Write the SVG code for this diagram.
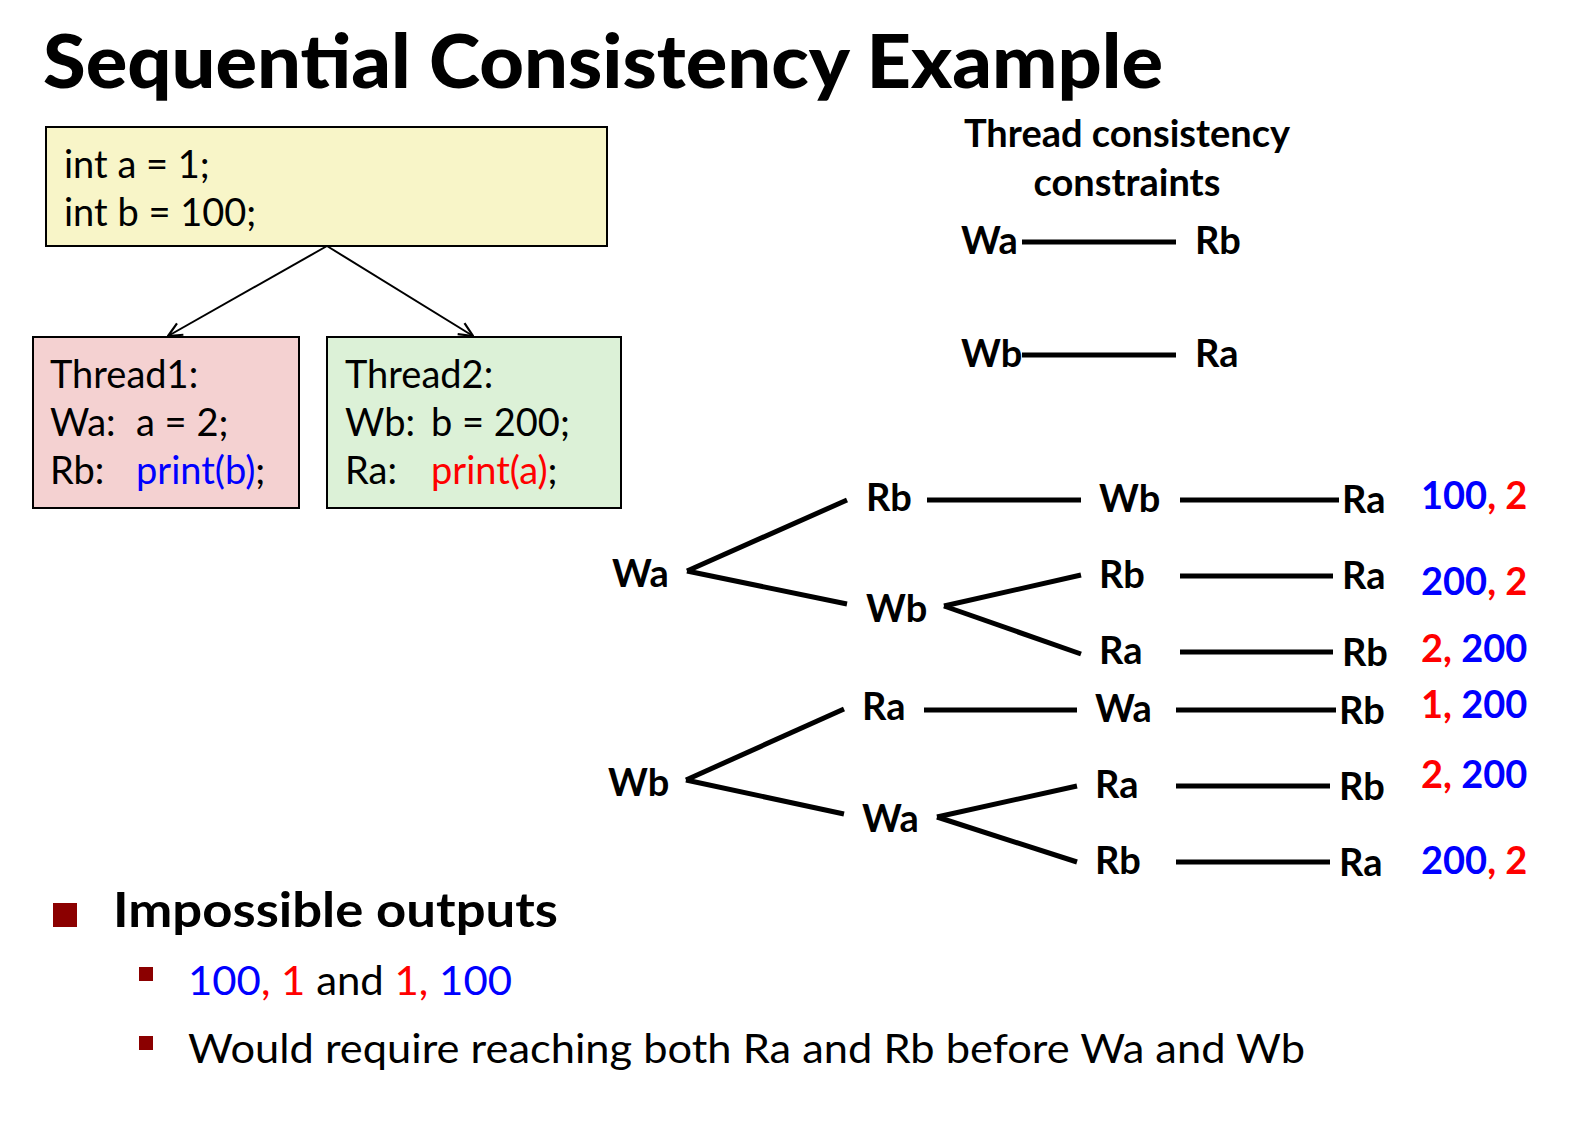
<svg xmlns="http://www.w3.org/2000/svg" width="1575" height="1121" viewBox="0 0 1575 1121">
  <defs>
    <marker id="open-arrow" viewBox="0 0 16 16" refX="15" refY="8" markerWidth="16" markerHeight="16" markerUnits="userSpaceOnUse" orient="auto">
      <path d="M1,1.5 L15,8 L1,14.5" fill="none" stroke="#000" stroke-width="2.2"/>
    </marker>
    <style>
      text { font-family: Lato, "Open Sans", "Liberation Sans", sans-serif; fill: #000; }
      .title { font-size: 75px; font-weight: 900; }
      .code { font-size: 38px; }
      .node { font-size: 38px; font-weight: 700; }
      .head { font-size: 38px; font-weight: 700; }
      .out { font-size: 38px; font-weight: 700; }
      .b1 { font-size: 47px; font-weight: 700; }
      .b2 { font-size: 41px; }
      .blue { fill: #0000ff; }
      .red { fill: #ff0000; }
      .edge { stroke: #000; stroke-width: 5; fill: none; }
      .arrow { stroke: #000; stroke-width: 2; fill: none; marker-end: url(#open-arrow); }
      .box { stroke: #000; stroke-width: 2; }
      .bullet { fill: #8b0000; }
    </style>
  </defs>

  <rect width="1575" height="1121" fill="#fff"/>

  <text class="title" x="43" y="88" textLength="1120" lengthAdjust="spacingAndGlyphs">Sequential Consistency Example</text>

  <!-- program boxes -->
  <g id="init">
    <rect class="box" x="46" y="127" width="561" height="119" fill="#f8f5c8"/>
    <text class="code" x="64" y="178">int a = 1;</text>
    <text class="code" x="64" y="226">int b = 100;</text>
  </g>
  <g id="thread1">
    <rect class="box" x="33" y="337" width="266" height="171" fill="#f4d1d1"/>
    <text class="code" x="50" y="388">Thread1:</text>
    <text class="code" x="50" y="436">Wa:</text>
    <text class="code" x="136" y="436">a = 2;</text>
    <text class="code" x="50" y="484">Rb:</text>
    <text class="code" x="136" y="484"><tspan class="blue">print(b)</tspan>;</text>
  </g>
  <g id="thread2">
    <rect class="box" x="327" y="337" width="294" height="171" fill="#dcf1d7"/>
    <text class="code" x="345" y="388">Thread2:</text>
    <text class="code" x="345" y="436">Wb:</text>
    <text class="code" x="431" y="436">b = 200;</text>
    <text class="code" x="345" y="484">Ra:</text>
    <text class="code" x="431" y="484"><tspan class="red">print(a)</tspan>;</text>
  </g>

  <!-- thread consistency constraints -->
  <g id="constraints">
    <text class="head" x="1127" y="147" text-anchor="middle">Thread consistency</text>
    <text class="head" x="1127" y="196" text-anchor="middle">constraints</text>
    <text class="node" x="961" y="254">Wa</text>
    <text class="node" x="1195" y="254">Rb</text>
    <text class="node" x="961" y="367">Wb</text>
    <text class="node" x="1195" y="367">Ra</text>
  </g>

  <!-- tree rooted at Wa -->
  <g id="tree-wa">
    <text class="node" x="612" y="587">Wa</text>
    <text class="node" x="866" y="511">Rb</text>
    <text class="node" x="1099" y="512">Wb</text>
    <text class="node" x="1342" y="513">Ra</text>
    <text class="node" x="866" y="622">Wb</text>
    <text class="node" x="1099" y="588">Rb</text>
    <text class="node" x="1342" y="589">Ra</text>
    <text class="node" x="1099" y="664">Ra</text>
    <text class="node" x="1342" y="666">Rb</text>
  </g>

  <!-- tree rooted at Wb -->
  <g id="tree-wb">
    <text class="node" x="608" y="796">Wb</text>
    <text class="node" x="862" y="720">Ra</text>
    <text class="node" x="1095" y="722">Wa</text>
    <text class="node" x="1339" y="724">Rb</text>
    <text class="node" x="862" y="832">Wa</text>
    <text class="node" x="1095" y="798">Ra</text>
    <text class="node" x="1339" y="800">Rb</text>
    <text class="node" x="1095" y="874">Rb</text>
    <text class="node" x="1339" y="876">Ra</text>
  </g>

  <!-- printed outputs -->
  <g id="outputs">
    <text class="out" x="1421" y="509"><tspan class="blue">100</tspan><tspan class="red">, 2</tspan></text>
    <text class="out" x="1421" y="595"><tspan class="blue">200</tspan><tspan class="red">, 2</tspan></text>
    <text class="out" x="1421" y="662"><tspan class="red">2, </tspan><tspan class="blue">200</tspan></text>
    <text class="out" x="1421" y="718"><tspan class="red">1, </tspan><tspan class="blue">200</tspan></text>
    <text class="out" x="1421" y="788"><tspan class="red">2, </tspan><tspan class="blue">200</tspan></text>
    <text class="out" x="1421" y="874"><tspan class="blue">200</tspan><tspan class="red">, 2</tspan></text>
  </g>

  <!-- connectors -->
  <g id="connectors">
    <line class="arrow" x1="327" y1="246" x2="168" y2="336"/>
    <line class="arrow" x1="327" y1="246" x2="473" y2="336"/>

    <line class="edge" x1="1022" y1="242" x2="1176" y2="242"/>
    <line class="edge" x1="1022" y1="355" x2="1176" y2="355"/>

    <line class="edge" x1="687" y1="571" x2="847" y2="500"/>
    <line class="edge" x1="687" y1="571" x2="847" y2="604"/>
    <line class="edge" x1="927" y1="500" x2="1081" y2="500"/>
    <line class="edge" x1="1180" y1="500" x2="1339" y2="500"/>
    <line class="edge" x1="944" y1="606" x2="1081" y2="575"/>
    <line class="edge" x1="944" y1="606" x2="1081" y2="654"/>
    <line class="edge" x1="1180" y1="576" x2="1333" y2="576"/>
    <line class="edge" x1="1180" y1="652" x2="1333" y2="652"/>

    <line class="edge" x1="686" y1="780" x2="844" y2="709"/>
    <line class="edge" x1="686" y1="780" x2="844" y2="814"/>
    <line class="edge" x1="924" y1="710" x2="1077" y2="710"/>
    <line class="edge" x1="1176" y1="710" x2="1336" y2="710"/>
    <line class="edge" x1="937" y1="817" x2="1077" y2="786"/>
    <line class="edge" x1="937" y1="817" x2="1077" y2="862"/>
    <line class="edge" x1="1176" y1="786" x2="1330" y2="786"/>
    <line class="edge" x1="1176" y1="862" x2="1330" y2="862"/>
  </g>

  <!-- bullet list -->
  <g id="notes">
    <rect class="bullet" x="53" y="903" width="24" height="24"/>
    <text class="b1" x="113" y="927" textLength="445" lengthAdjust="spacingAndGlyphs">Impossible outputs</text>
    <rect class="bullet" x="139" y="967" width="14" height="14"/>
    <text class="b2" x="188" y="995" textLength="324" lengthAdjust="spacingAndGlyphs"><tspan class="blue">100</tspan><tspan class="red">, 1</tspan> and <tspan class="red">1, </tspan><tspan class="blue">100</tspan></text>
    <rect class="bullet" x="139" y="1036" width="14" height="14"/>
    <text class="b2" x="188" y="1063" textLength="1117" lengthAdjust="spacingAndGlyphs">Would require reaching both Ra and Rb before Wa and Wb</text>
  </g>
</svg>
